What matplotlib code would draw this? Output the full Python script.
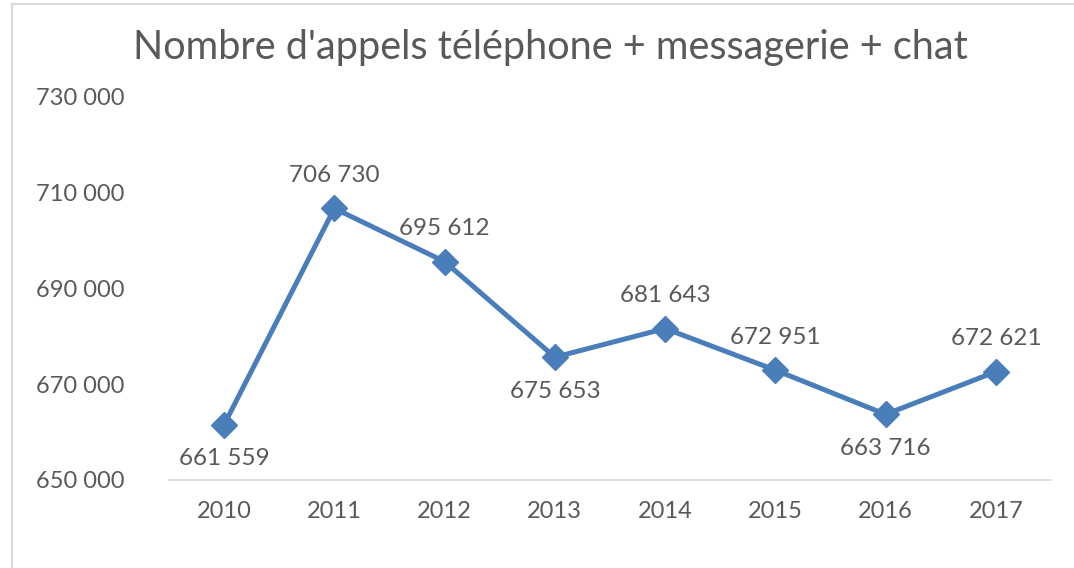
import matplotlib
matplotlib.use("Agg")
import matplotlib.pyplot as plt
from matplotlib.patches import Rectangle
import matplotlib.transforms as mtrans

years = ["2010", "2011", "2012", "2013", "2014", "2015", "2016", "2017"]
values = [661559, 706730, 695612, 675653, 681643, 672951, 663716, 672621]
label_pos = ["below", "above", "above", "below", "above", "above", "below", "above"]
yticks = [650000, 670000, 690000, 710000, 730000]

plt.rcParams['font.family'] = ['Lato', 'DejaVu Sans']
gray = '#595959'
blue = '#4A7EBB'

fig = plt.figure(figsize=(10.74, 5.68), dpi=100)
ax = fig.add_axes([169/1074, 1-480/568, (1051-169)/1074, 383/568])

x = list(range(len(years)))
ax.plot(x, values, color=blue, lw=3.6, marker='D', markersize=13, zorder=3)

def fmt(v):
    return f"{v:,}".replace(",", " ")

for xi, v, p in zip(x, values, label_pos):
    if p == "above":
        ax.annotate(fmt(v), (xi, v), xytext=(0, 16), textcoords='offset points',
                    ha='center', va='bottom', fontsize=17.5, color=gray)
    else:
        ax.annotate(fmt(v), (xi, v), xytext=(0, -17), textcoords='offset points',
                    ha='center', va='top', fontsize=17.5, color=gray)

ax.set_xlim(-0.5, len(years) - 0.5)
ax.set_ylim(650000, 730000)
ax.set_yticks(yticks)
ax.set_yticklabels([fmt(t) for t in yticks])
ax.set_xticks(x)
ax.set_xticklabels(years)
ax.tick_params(axis='both', length=0, labelsize=17, labelcolor=gray)
ax.tick_params(axis='x', pad=15)
ax.tick_params(axis='y', pad=0)
for s in ['top', 'right', 'left']:
    ax.spines[s].set_visible(False)
ax.spines['bottom'].set_color('#D9D9D9')
ax.spines['bottom'].set_linewidth(1.2)
offset = mtrans.ScaledTranslation(-(169-36)/100, 0, fig.dpi_scale_trans)
for lab in ax.get_yticklabels():
    lab.set_horizontalalignment('left')
    lab.set_transform(lab.get_transform() + offset)

fig.text(550/1074, 1-47/568, "Nombre d'appels téléphone + messagerie + chat",
         ha='center', va='center', fontsize=28.5, color=gray)

fig.patches.append(Rectangle((12/1074, -0.1), 1.2, 1-4/568+0.1, transform=fig.transFigure,
                             fill=False, edgecolor='#D9D9D9', lw=1.5))

fig.savefig("out.png", dpi=100)
